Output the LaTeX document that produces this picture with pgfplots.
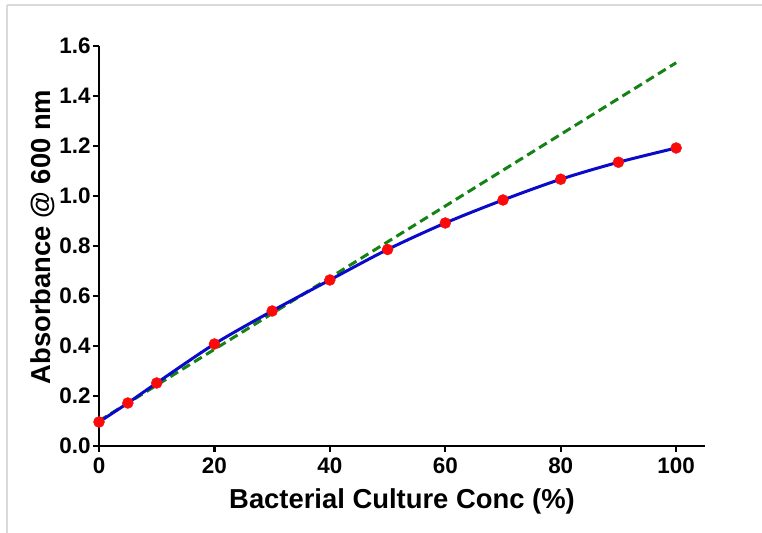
\documentclass[border=0pt]{standalone}
\usepackage{fontspec}
\setmainfont{Liberation Sans}
\usepackage{pgfplots}
\pgfplotsset{compat=1.18}

\definecolor{fitblue}{RGB}{10,10,200}
\definecolor{lingreen}{RGB}{20,130,20}
\definecolor{ptred}{RGB}{250,10,10}
\definecolor{framegray}{RGB}{218,218,218}

\begin{document}
\begin{tikzpicture}[x=1bp,y=1bp]
\useasboundingbox (0,0) rectangle (762,533);
\draw[framegray, line width=2bp] (7,528) -- (762,528);
\draw[framegray, line width=2bp] (7,528) -- (7,0);
\begin{axis}[
    at={(99bp,87bp)}, anchor=south west,
    scale only axis,
    width=606bp, height=400bp,
    xmin=0, xmax=105,
    ymin=0, ymax=1.6,
    axis x line*=bottom,
    axis y line*=left,
    axis line style={-, line width=2.4bp},
    every tick/.style={black, line width=2.4bp},
    tick align=outside,
    major tick length=6bp,
    xtick={0,20,40,60,80,100},
    ytick={0,0.2,...,1.6},
    yticklabel style={/pgf/number format/fixed, /pgf/number format/fixed zerofill, /pgf/number format/precision=1, xshift=1bp},
    /pgf/number format/assume math mode=true,
    tick label style={font=\fontsize{22.5}{26}\selectfont\bfseries},
    xticklabel style={yshift=-2bp},
    xlabel={Bacterial Culture Conc (\%)},
    ylabel={Absorbance @ 600 nm},
    every axis x label/.style={at={(axis description cs:0.5,-0.1375)}, anchor=center,
        font=\fontsize{27.5}{32}\selectfont\bfseries},
    every axis y label/.style={at={(axis description cs:-0.0924,0.5225)}, rotate=90, anchor=center,
        font=\fontsize{27.5}{32}\selectfont\bfseries},
    clip=false,
]
% linear fit through the low concentrations
\addplot[lingreen, line width=3bp, dash pattern=on 9bp off 5bp] coordinates {
    (0,0.100) (100,1.533)
};
% fitted curve
\addplot[fitblue, line width=3bp, smooth, no markers] coordinates {
    (0,0.096) (5,0.172) (10,0.252) (20,0.408) (30,0.540) (40,0.664)
    (50,0.786) (60,0.892) (70,0.984) (80,1.067) (90,1.135) (100,1.192)
};
% measured points
\addplot[only marks, mark=*, mark size=5.5bp, ptred, mark options={draw=ptred, fill=ptred}] coordinates {
    (0,0.096) (5,0.172) (10,0.252) (20,0.408) (30,0.540) (40,0.664)
    (50,0.786) (60,0.892) (70,0.984) (80,1.067) (90,1.135) (100,1.192)
};
\end{axis}
\end{tikzpicture}
\end{document}
